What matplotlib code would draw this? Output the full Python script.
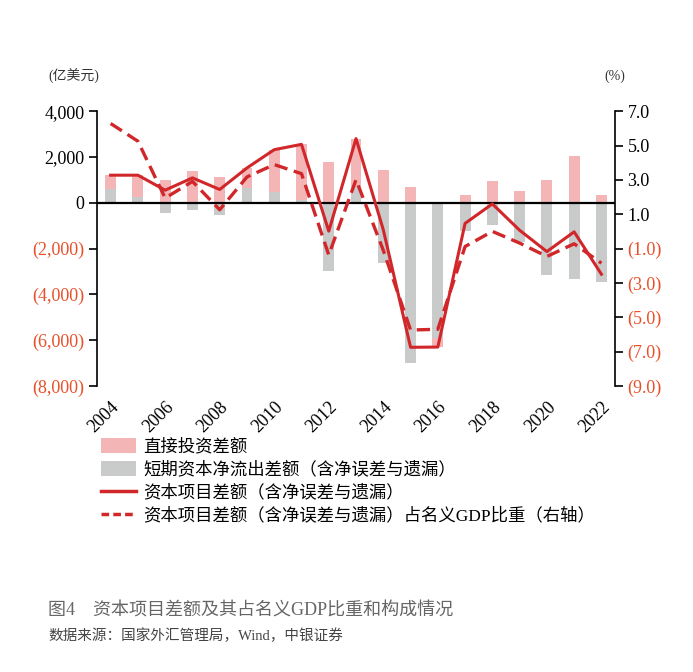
import numpy as np
import matplotlib.pyplot as plt
from matplotlib.patches import Patch
from matplotlib.lines import Line2D
from matplotlib.ticker import FuncFormatter

plt.rcParams['font.family'] = ['Liberation Serif', 'Noto Sans CJK SC', 'DejaVu Sans']

years = list(range(2004, 2023))
# 资本项目差额（含净误差与遗漏），亿美元
capital = [1204, 1204, 550, 1087, 580, 1521, 2318, 2550, -1240, 2800, -1180, -6310,
           -6300, -900, -50, -1200, -2130, -1270, -3120]
# 直接投资差额
fdi = [621, 943, 1014, 1406, 1130, 870, 1854, 2420, 1760, 2120, 1450, 690,
       -400, 320, 930, 500, 1010, 2060, 330]
# 短期资本净流出差额 = 资本项目差额 - 直接投资差额
short = [c - f for c, f in zip(capital, fdi)]
# 占名义GDP比重 (%)
ratio = [6.28, 5.25, 1.94, 2.91, 1.26, 3.17, 3.89, 3.36, -1.37, 3.01, -1.1, -5.74,
         -5.70, -0.88, 0.0, -0.68, -1.46, -0.72, -1.85]

pink = '#F4B5B6'
grey = '#C9CACA'
red = '#D2272A'
neg_color = '#E8502A'

fig = plt.figure(figsize=(6.93, 6.72), dpi=100)
ax = fig.add_axes([0.140, 0.4256, 0.7475, 0.409])
ax2 = ax.twinx()

x = np.arange(len(years))
w = 0.4
short_a = np.array(short, dtype=float)
fdi_a = np.array(fdi, dtype=float)
# 同号时直接投资叠在短期资本之上，异号时从0开始
base = np.where(np.sign(fdi_a) == np.sign(short_a), short_a, 0)
ax.bar(x, short_a, w, color=grey, zorder=2)
ax.bar(x, fdi_a, w, bottom=base, color=pink, zorder=2)
ax.axhline(0, color='black', lw=1.6, zorder=3)
ax.plot(x, capital, color=red, lw=2.2, zorder=4)
ax2.plot(x, ratio, color=red, lw=2.4, ls=(0, (4, 2)), zorder=4)

ax.set_xlim(-0.5, 18.5)
ax.set_ylim(-8000, 4000)
ax.set_yticks(np.arange(-8000, 4001, 2000))
ax2.set_ylim(-9, 7)
ax2.set_yticks(np.arange(-9, 7.1, 2))

def fmt_left(v, pos):
    if v < 0:
        return '({:,.0f})'.format(-v)
    return '{:,.0f}'.format(v)

def fmt_right(v, pos):
    if v < 0:
        return '({:.1f})'.format(-v)
    return '{:.1f}'.format(v)

ax.yaxis.set_major_formatter(FuncFormatter(fmt_left))
ax2.yaxis.set_major_formatter(FuncFormatter(fmt_right))

for a in (ax, ax2):
    a.spines['top'].set_visible(False)
    a.spines['bottom'].set_visible(False)
ax.spines['right'].set_visible(False)
ax.spines['left'].set_linewidth(1.2)
ax2.spines['right'].set_linewidth(1.2)
ax2.spines['left'].set_visible(False)

ax.tick_params(axis='y', direction='out', length=6, width=1.2, labelsize=13, pad=3)
ax2.tick_params(axis='y', direction='out', length=6, width=1.2, labelsize=13, pad=3)
ax.set_xticks(x[::2])
ax.set_xticklabels([str(y) for y in years[::2]], rotation=45, fontsize=13,
                   ha='right', va='top', rotation_mode='anchor')
ax.tick_params(axis='x', length=0, pad=9)

fig.canvas.draw()
for t in ax.get_yticklabels():
    if t.get_text().startswith('('):
        t.set_color(neg_color)
for t in ax2.get_yticklabels():
    if t.get_text().startswith('('):
        t.set_color(neg_color)

fig.text(48 / 693, 1 - 76 / 672, '(亿美元)', fontsize=10, va='center', ha='left', color='#333333')
fig.text(625 / 693, 1 - 76 / 672, '(%)', fontsize=10, va='center', ha='right', color='#333333')

handles = [
    Patch(facecolor=pink, edgecolor='none'),
    Patch(facecolor=grey, edgecolor='none'),
    Line2D([0], [0], color=red, lw=2.5),
    Line2D([0], [0], color=red, lw=2.5, ls=(0, (2.2, 1.2))),
]
labels = [
    '直接投资差额',
    '短期资本净流出差额（含净误差与遗漏）',
    '资本项目差额（含净误差与遗漏）',
    '资本项目差额（含净误差与遗漏）占名义GDP比重（右轴）',
]
fig.legend(handles, labels, loc='upper left', bbox_to_anchor=(94 / 693, 1 - 431 / 672),
           frameon=False, fontsize=12.5, handlelength=2.0, handleheight=1.0,
           labelspacing=0.3, handletextpad=0.45, borderaxespad=0)

fig.text(48 / 693, 1 - 611 / 672, '图4　资本项目差额及其占名义GDP比重和构成情况',
         fontsize=13, color='#666666', va='center', ha='left')
fig.text(48 / 693, 1 - 636 / 672, '数据来源：国家外汇管理局，Wind，中银证券',
         fontsize=10.5, color='#444444', va='center', ha='left')

fig.savefig('out.png', dpi=100)
